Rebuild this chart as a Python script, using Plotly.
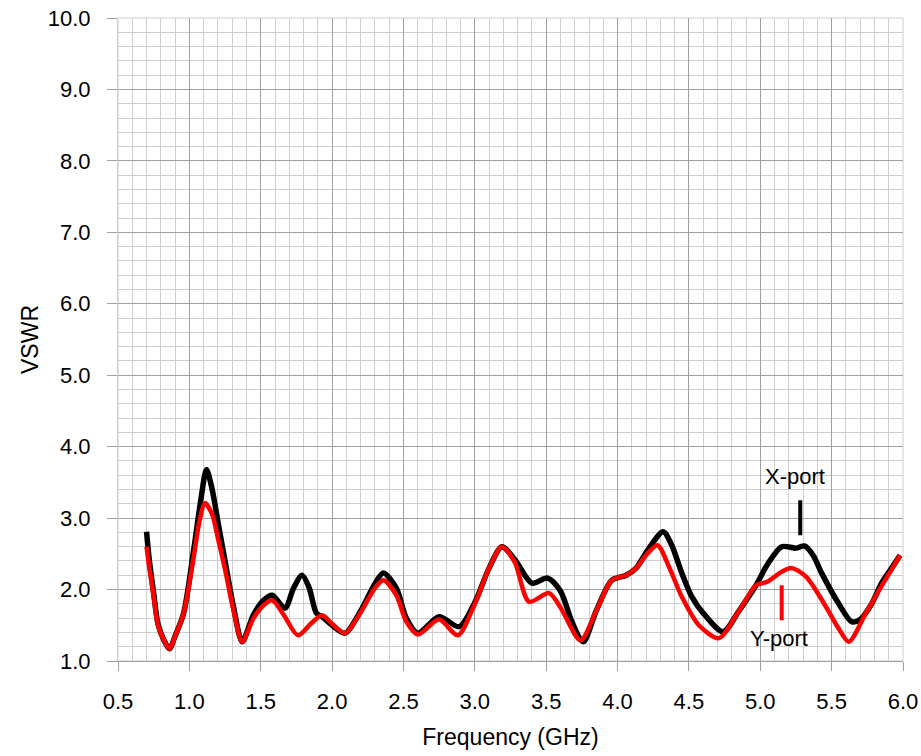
import plotly.graph_objects as go

# X-port (black) VSWR
x_port_f = [0.70, 0.72, 0.75, 0.78, 0.82, 0.86, 0.90, 0.96, 1.03, 1.08, 1.12, 1.16, 1.20, 1.25, 1.31, 1.37,
            1.45, 1.52, 1.58, 1.67, 1.73, 1.79, 1.84, 1.89, 1.93, 2.00, 2.09, 2.20, 2.30, 2.36, 2.45,
            2.52, 2.60, 2.75, 2.89, 3.00, 3.10, 3.19, 3.28, 3.40, 3.51, 3.60, 3.68, 3.76, 3.85, 3.96,
            4.06, 4.13, 4.22, 4.32, 4.38, 4.45, 4.52, 4.60, 4.74, 4.85, 4.97, 5.05, 5.15, 5.25, 5.31,
            5.37, 5.43, 5.55, 5.64, 5.70, 5.78, 5.85, 5.92, 5.98]
x_port_v = [2.81, 2.40, 1.95, 1.52, 1.30, 1.17, 1.35, 1.67, 2.55, 3.25, 3.68, 3.40, 2.95, 2.40, 1.75, 1.27,
            1.65, 1.85, 1.92, 1.74, 2.02, 2.20, 2.02, 1.67, 1.62, 1.50, 1.39, 1.70, 2.08, 2.23, 2.02,
            1.60, 1.39, 1.62, 1.48, 1.82, 2.30, 2.60, 2.42, 2.09, 2.16, 1.98, 1.55, 1.27, 1.70, 2.13,
            2.20, 2.30, 2.58, 2.81, 2.62, 2.23, 1.90, 1.67, 1.41, 1.70, 2.06, 2.35, 2.60, 2.58, 2.61,
            2.48, 2.23, 1.80, 1.55, 1.58, 1.80, 2.09, 2.30, 2.48]

# Y-port (red) VSWR
y_port_f = [0.70, 0.72, 0.75, 0.78, 0.82, 0.86, 0.90, 0.96, 1.03, 1.07, 1.11, 1.16, 1.20, 1.25, 1.31, 1.37,
            1.45, 1.52, 1.58, 1.66, 1.76, 1.85, 1.93, 2.00, 2.09, 2.20, 2.30, 2.36, 2.45, 2.52, 2.60,
            2.75, 2.88, 3.00, 3.10, 3.19, 3.28, 3.38, 3.52, 3.60, 3.74, 3.85, 3.96, 4.06, 4.13, 4.20,
            4.28, 4.36, 4.45, 4.57, 4.71, 4.85, 4.97, 5.05, 5.15, 5.22, 5.32, 5.46, 5.55, 5.62, 5.74,
            5.85, 5.92, 5.98]
y_port_v = [2.60, 2.30, 1.90, 1.50, 1.30, 1.17, 1.35, 1.67, 2.45, 2.95, 3.21, 3.05, 2.72, 2.28, 1.70, 1.27,
            1.60, 1.78, 1.85, 1.65, 1.36, 1.52, 1.64, 1.52, 1.39, 1.68, 2.02, 2.13, 1.92, 1.55, 1.37,
            1.58, 1.36, 1.80, 2.30, 2.60, 2.38, 1.83, 1.95, 1.75, 1.29, 1.70, 2.13, 2.20, 2.30, 2.48,
            2.62, 2.32, 1.90, 1.50, 1.32, 1.70, 2.06, 2.11, 2.25, 2.30, 2.18, 1.76, 1.45, 1.27, 1.67,
            2.05, 2.28, 2.48]

x_ticks = [0.5, 1.0, 1.5, 2.0, 2.5, 3.0, 3.5, 4.0, 4.5, 5.0, 5.5, 6.0]
y_ticks = [1.0, 2.0, 3.0, 4.0, 5.0, 6.0, 7.0, 8.0, 9.0, 10.0]

FONT = "Liberation Sans, Arial, sans-serif"

fig = go.Figure()
fig.add_trace(go.Scatter(x=x_port_f, y=x_port_v, mode="lines", name="X-port",
                         line=dict(color="black", width=5.5, shape="spline", smoothing=0.8)))
fig.add_trace(go.Scatter(x=y_port_f, y=y_port_v, mode="lines", name="Y-port",
                         line=dict(color="#ff0000", width=4.5, shape="spline", smoothing=0.8)))

# annotation markers
fig.add_trace(go.Scatter(x=[5.28, 5.28], y=[3.25, 2.76], mode="lines",
                         line=dict(color="black", width=4), showlegend=False, hoverinfo="skip"))
fig.add_trace(go.Scatter(x=[5.15, 5.15], y=[2.06, 1.57], mode="lines",
                         line=dict(color="#ff0000", width=4), showlegend=False, hoverinfo="skip"))
fig.add_annotation(x=5.24, y=3.58, text="X-port", showarrow=False,
                   font=dict(family=FONT, size=22, color="black"))
fig.add_annotation(x=5.13, y=1.32, text="Y-port", showarrow=False,
                   font=dict(family=FONT, size=22, color="black"))

fig.update_layout(
    width=921, height=756,
    margin=dict(l=118, r=18, t=18, b=95),
    plot_bgcolor="white", paper_bgcolor="white",
    showlegend=False,
    font=dict(family=FONT, size=22, color="black"),
)
fig.update_xaxes(
    range=[0.5, 6.0], tickvals=x_ticks, ticktext=[f"{v:.1f}" for v in x_ticks],
    automargin=False,
    showgrid=True, gridcolor="#a0a0a0", gridwidth=1,
    minor=dict(dtick=0.1, tick0=0.5, showgrid=True, gridcolor="#cfcfcf", gridwidth=1),
    ticks="outside", ticklen=9, tickcolor="#a0a0a0", tickwidth=1,
    ticklabelstandoff=12,
    showline=True, linecolor="#a0a0a0", linewidth=1,
    zeroline=False,
    title=dict(text="Frequency (GHz)", font=dict(size=23), standoff=15),
    tickfont=dict(size=22),
)
fig.update_yaxes(
    range=[1.0, 10.0], tickvals=y_ticks, ticktext=[f"{v:.1f}" for v in y_ticks],
    automargin=False,
    showgrid=True, gridcolor="#a0a0a0", gridwidth=1,
    minor=dict(dtick=0.2, tick0=1.0, showgrid=True, gridcolor="#cfcfcf", gridwidth=1),
    ticks="outside", ticklen=10, tickcolor="#a0a0a0", tickwidth=1,
    ticklabelstandoff=12,
    showline=True, linecolor="#cfcfcf", linewidth=1,
    zeroline=False,
    title=dict(text="VSWR", font=dict(size=23), standoff=2),
    tickfont=dict(size=22),
)
fig.add_shape(type="rect", xref="paper", yref="paper", x0=0, y0=0, x1=1, y1=1,
              line=dict(color="#cfcfcf", width=1), layer="below")

fig.write_html("out.html", config={"displayModeBar": False},
               post_script="document.body.style.margin='0px';document.body.style.overflow='hidden';")
